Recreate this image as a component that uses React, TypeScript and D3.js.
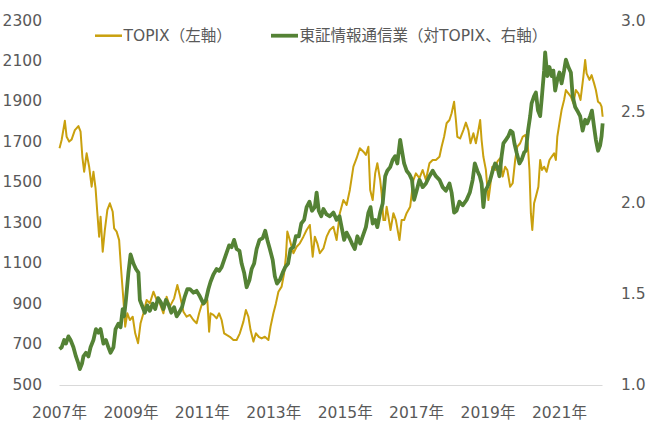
import React from 'react';
import * as d3 from 'd3';

const topixDates = [2007.00,2007.06,2007.15,2007.20,2007.27,2007.34,2007.43,2007.53,2007.59,2007.64,2007.69,2007.76,2007.83,2007.90,2007.95,2008.01,2008.06,2008.11,2008.15,2008.21,2008.27,2008.34,2008.41,2008.49,2008.53,2008.60,2008.67,2008.72,2008.79,2008.84,2008.90,2008.97,2009.05,2009.12,2009.20,2009.27,2009.35,2009.44,2009.53,2009.63,2009.72,2009.81,2009.91,2010.00,2010.09,2010.21,2010.30,2010.37,2010.47,2010.56,2010.65,2010.75,2010.84,2010.91,2010.98,2011.07,2011.14,2011.19,2011.23,2011.31,2011.40,2011.47,2011.54,2011.61,2011.68,2011.77,2011.87,2011.96,2012.05,2012.15,2012.22,2012.29,2012.35,2012.43,2012.50,2012.58,2012.66,2012.75,2012.85,2012.91,2012.99,2013.06,2013.13,2013.22,2013.29,2013.34,2013.38,2013.45,2013.55,2013.64,2013.73,2013.83,2013.92,2014.01,2014.09,2014.15,2014.22,2014.29,2014.39,2014.48,2014.57,2014.67,2014.76,2014.85,2014.95,2015.04,2015.13,2015.23,2015.32,2015.41,2015.51,2015.58,2015.65,2015.70,2015.77,2015.84,2015.90,2015.98,2016.02,2016.07,2016.12,2016.16,2016.21,2016.27,2016.35,2016.42,2016.52,2016.58,2016.65,2016.72,2016.82,2016.91,2016.98,2017.08,2017.17,2017.26,2017.36,2017.45,2017.54,2017.64,2017.70,2017.77,2017.84,2017.92,2017.98,2018.05,2018.10,2018.14,2018.22,2018.31,2018.38,2018.45,2018.51,2018.59,2018.66,2018.73,2018.78,2018.82,2018.87,2018.94,2019.01,2019.06,2019.12,2019.20,2019.26,2019.34,2019.41,2019.48,2019.54,2019.62,2019.69,2019.76,2019.82,2019.90,2019.97,2020.04,2020.11,2020.16,2020.20,2020.24,2020.29,2020.34,2020.41,2020.46,2020.51,2020.57,2020.64,2020.72,2020.78,2020.85,2020.90,2020.94,2021.00,2021.06,2021.13,2021.18,2021.25,2021.32,2021.39,2021.46,2021.53,2021.59,2021.67,2021.72,2021.76,2021.84,2021.90,2021.97,2022.02,2022.08,2022.14,2022.18,2022.21];
const topixValues = [1673,1714,1809,1730,1706,1717,1763,1783,1755,1631,1557,1648,1582,1483,1557,1475,1352,1236,1335,1162,1269,1368,1401,1359,1277,1261,1219,1087,923,791,857,824,840,758,709,808,857,923,906,964,923,906,857,939,890,931,997,948,865,840,849,824,808,857,898,906,923,766,857,849,832,857,824,758,750,741,725,725,758,816,873,840,774,717,758,741,733,741,725,791,857,906,964,989,1055,1137,1261,1219,1154,1186,1203,1236,1269,1294,1137,1236,1203,1154,1178,1236,1269,1285,1219,1352,1417,1393,1467,1582,1624,1673,1656,1640,1681,1467,1417,1549,1599,1516,1450,1318,1318,1384,1335,1269,1352,1318,1219,1318,1318,1352,1384,1516,1549,1525,1566,1516,1599,1615,1615,1631,1681,1730,1797,1813,1846,1903,1813,1730,1722,1763,1800,1763,1698,1747,1698,1763,1813,1714,1631,1566,1417,1483,1582,1566,1607,1624,1533,1582,1566,1483,1500,1615,1681,1698,1730,1739,1698,1566,1352,1269,1401,1434,1483,1615,1566,1582,1557,1615,1631,1648,1615,1730,1797,1862,1912,1961,1945,1928,1895,1961,1945,1912,2027,2110,2044,2011,2035,1994,1961,1903,1895,1879,1829];

const ratioDates = [2007.00,2007.06,2007.13,2007.18,2007.25,2007.31,2007.39,2007.46,2007.53,2007.57,2007.63,2007.67,2007.74,2007.81,2007.87,2007.95,2008.02,2008.09,2008.15,2008.23,2008.30,2008.37,2008.43,2008.51,2008.57,2008.65,2008.71,2008.77,2008.81,2008.86,2008.93,2008.99,2009.07,2009.14,2009.21,2009.25,2009.33,2009.39,2009.46,2009.53,2009.61,2009.68,2009.76,2009.83,2009.91,2009.98,2010.06,2010.13,2010.21,2010.28,2010.35,2010.43,2010.51,2010.58,2010.65,2010.75,2010.84,2010.93,2011.03,2011.10,2011.17,2011.23,2011.31,2011.40,2011.47,2011.54,2011.61,2011.68,2011.75,2011.82,2011.89,2011.96,2012.04,2012.10,2012.17,2012.24,2012.32,2012.38,2012.45,2012.52,2012.60,2012.69,2012.76,2012.82,2012.89,2012.97,2013.03,2013.09,2013.17,2013.25,2013.32,2013.40,2013.47,2013.55,2013.62,2013.70,2013.77,2013.85,2013.92,2014.00,2014.07,2014.15,2014.20,2014.26,2014.33,2014.39,2014.48,2014.57,2014.67,2014.76,2014.84,2014.90,2014.97,2015.04,2015.12,2015.19,2015.27,2015.34,2015.42,2015.49,2015.58,2015.65,2015.71,2015.77,2015.84,2015.90,2015.98,2016.05,2016.12,2016.18,2016.26,2016.33,2016.40,2016.46,2016.54,2016.59,2016.65,2016.72,2016.80,2016.87,2016.93,2017.00,2017.08,2017.17,2017.26,2017.36,2017.45,2017.54,2017.64,2017.73,2017.82,2017.92,2017.98,2018.05,2018.12,2018.20,2018.29,2018.40,2018.49,2018.57,2018.63,2018.70,2018.77,2018.82,2018.87,2018.92,2018.98,2019.06,2019.13,2019.20,2019.26,2019.32,2019.38,2019.43,2019.50,2019.57,2019.63,2019.69,2019.74,2019.80,2019.88,2019.94,2020.01,2020.06,2020.12,2020.18,2020.22,2020.29,2020.34,2020.40,2020.46,2020.51,2020.57,2020.60,2020.66,2020.72,2020.78,2020.83,2020.88,2020.94,2021.00,2021.06,2021.13,2021.18,2021.25,2021.32,2021.37,2021.44,2021.50,2021.58,2021.65,2021.72,2021.78,2021.86,2021.91,2021.97,2022.02,2022.08,2022.14,2022.18,2022.21];
const ratioValues = [1.20,1.21,1.25,1.23,1.27,1.25,1.21,1.16,1.12,1.09,1.12,1.16,1.18,1.16,1.21,1.25,1.31,1.29,1.31,1.23,1.25,1.21,1.18,1.21,1.31,1.34,1.32,1.42,1.38,1.47,1.62,1.72,1.67,1.64,1.62,1.47,1.43,1.40,1.44,1.41,1.45,1.42,1.48,1.46,1.42,1.47,1.44,1.40,1.43,1.38,1.40,1.43,1.49,1.53,1.53,1.51,1.52,1.49,1.45,1.47,1.53,1.57,1.61,1.64,1.63,1.65,1.69,1.73,1.77,1.76,1.80,1.75,1.74,1.67,1.62,1.54,1.58,1.64,1.67,1.75,1.80,1.81,1.85,1.80,1.75,1.69,1.60,1.56,1.58,1.62,1.65,1.67,1.75,1.76,1.82,1.82,1.89,1.91,1.98,2.01,1.96,1.98,2.06,1.96,1.93,1.97,1.94,1.93,1.95,1.91,1.93,1.87,1.80,1.84,1.81,1.78,1.75,1.82,1.78,1.82,1.87,1.95,1.98,1.89,1.91,1.87,1.95,2.00,2.15,2.18,2.20,2.24,2.26,2.22,2.35,2.29,2.22,2.18,2.16,2.13,2.02,2.07,2.13,2.09,2.11,2.15,2.18,2.15,2.13,2.09,2.07,2.11,2.06,1.95,1.96,2.01,1.99,2.02,2.06,2.13,2.22,2.18,2.15,2.11,1.98,2.07,2.09,2.13,2.18,2.22,2.20,2.15,2.26,2.33,2.35,2.37,2.40,2.39,2.33,2.28,2.22,2.24,2.28,2.29,2.40,2.48,2.55,2.59,2.61,2.51,2.48,2.59,2.73,2.83,2.70,2.75,2.70,2.73,2.62,2.68,2.72,2.66,2.73,2.79,2.75,2.72,2.59,2.53,2.51,2.48,2.40,2.46,2.44,2.48,2.51,2.42,2.35,2.29,2.32,2.37,2.44];

const leftTicks = [500, 700, 900, 1100, 1300, 1500, 1700, 1900, 2100, 2300];
const rightTicks = [1.0, 1.5, 2.0, 2.5, 3.0];
const yearTicks = [2007, 2009, 2011, 2013, 2015, 2017, 2019, 2021];

const seriesNames = ['TOPIX（左軸）', '東証情報通信業（対TOPIX、右軸）'];
const seriesColors = ['#C9A00E', '#548235'];

const FONT = "'DejaVu Sans', 'Noto Sans CJK JP', sans-serif";
const TEXT = '#595959';

export default function App() {
  const W = 654, H = 430;
  const x = d3.scaleLinear().domain([2007, 2022.2]).range([59.5, 602.3]);
  const yL = d3.scaleLinear().domain([500, 2300]).range([385.5, 21.5]);
  const yR = d3.scaleLinear().domain([1, 3]).range([385.5, 21.5]);

  const topixLine = d3.line<number>()
    .x((_, i) => x(topixDates[i]))
    .y((d) => yL(d));
  const ratioLine = d3.line<number>()
    .x((_, i) => x(ratioDates[i]))
    .y((d) => yR(d));

  return (
    <svg width={W} height={H} style={{ position: 'absolute', left: 0, top: 0, background: '#fff' }}
      fontFamily={FONT}>
      <rect width={W} height={H} fill="#fff" />
      <line x1={59.5} x2={602.5} y1={yL(500)} y2={yL(500)} stroke="#D9D9D9" strokeWidth={1} />
      {leftTicks.map((t) => (
        <text key={'l' + t} x={42} y={yL(t) + 4} textAnchor="end" fontSize={15.5} fill={TEXT}>{t}</text>
      ))}
      {rightTicks.map((t) => (
        <text key={'r' + t} x={621} y={yR(t) + 4} textAnchor="start" fontSize={15.5} fill={TEXT}>{d3.format('.1f')(t)}</text>
      ))}
      {yearTicks.map((t) => (
        <text key={'x' + t} x={x(t)} y={418} textAnchor="middle" fontSize={15.5} fill={TEXT}>{t}年</text>
      ))}
      <path d={topixLine(topixValues) || ''} fill="none" stroke={seriesColors[0]} strokeWidth={2} strokeLinejoin="round" />
      <path d={ratioLine(ratioValues) || ''} fill="none" stroke={seriesColors[1]} strokeWidth={3.8} strokeLinejoin="round" />
      <g>
        <line x1={95} x2={122} y1={35.7} y2={35.7} stroke={seriesColors[0]} strokeWidth={2.5} />
        <text x={123.5} y={41} fontSize={15.5} fill={TEXT}>{seriesNames[0]}</text>
        <line x1={271} x2={298} y1={35.7} y2={35.7} stroke={seriesColors[1]} strokeWidth={3.8} />
        <text x={299.5} y={41} fontSize={15.5} fill={TEXT}>{seriesNames[1]}</text>
      </g>
    </svg>
  );
}
